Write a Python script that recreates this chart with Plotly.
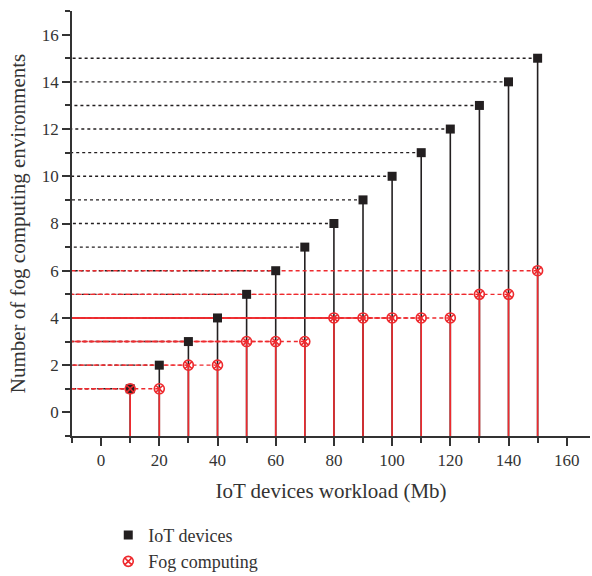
import plotly.graph_objects as go

workload = [10, 20, 30, 40, 50, 60, 70, 80, 90, 100, 110, 120, 130, 140, 150]
iot_devices = [1, 2, 3, 4, 5, 6, 7, 8, 9, 10, 11, 12, 13, 14, 15]
fog_computing = [1, 1, 2, 2, 3, 3, 3, 4, 4, 4, 4, 4, 5, 5, 6]

X_MIN, X_MAX = -10, 168
Y_MIN, Y_MAX = -1, 17

BLACK = "#231f20"
RED = "#ee2a2e"
FONT = "Liberation Serif"

fig = go.Figure()

# IoT: horizontal dotted lines to y-axis
for x, y in zip(workload, iot_devices):
    fig.add_trace(go.Scatter(x=[x, X_MIN], y=[y, y], mode="lines",
                             line=dict(color=BLACK, width=1.4, dash="3px,3px"),
                             showlegend=False, hoverinfo="skip"))
# IoT: vertical drop lines
for x, y in zip(workload, iot_devices):
    fig.add_trace(go.Scatter(x=[x, x], y=[y, Y_MIN], mode="lines",
                             line=dict(color=BLACK, width=1.6),
                             showlegend=False, hoverinfo="skip"))
# Fog: horizontal dashed lines
for x, y in zip(workload, fog_computing):
    fig.add_trace(go.Scatter(x=[x, X_MIN], y=[y, y], mode="lines",
                             line=dict(color=RED, width=1.4, dash="4px,3px"),
                             showlegend=False, hoverinfo="skip"))
# Fog: vertical drop lines
for x, y in zip(workload, fog_computing):
    fig.add_trace(go.Scatter(x=[x, x], y=[y, Y_MIN], mode="lines",
                             line=dict(color=RED, width=1.6),
                             showlegend=False, hoverinfo="skip"))

fig.add_trace(go.Scatter(x=workload, y=iot_devices, mode="markers", name="IoT devices",
                         marker=dict(symbol="square", size=9, color=BLACK,
                                     line=dict(width=0))))
fig.add_trace(go.Scatter(x=workload, y=fog_computing, mode="markers", name="Fog computing",
                         marker=dict(symbol="circle-x-open", size=10, color=RED,
                                     line=dict(width=1.6, color=RED))))

axis_common = dict(showline=True, linecolor="#333", linewidth=1.5, ticks="outside",
                   tickcolor="#333", tickwidth=1.5, ticklen=8, showgrid=False,
                   zeroline=False, tickfont=dict(family=FONT, size=17, color="#333"),
                   mirror=False)

fig.update_xaxes(range=[X_MIN, X_MAX], tickvals=[0, 20, 40, 60, 80, 100, 120, 140, 160],
                 minor=dict(tickvals=[-10, 10, 30, 50, 70, 90, 110, 130, 150, 170],
                            ticks="outside", ticklen=5, tickcolor="#333", tickwidth=1.5),
                 title=dict(text="IoT devices workload (Mb)", standoff=14,
                            font=dict(family=FONT, size=21, color="#333")),
                 **axis_common)
fig.update_yaxes(range=[Y_MIN, Y_MAX], tickvals=[0, 2, 4, 6, 8, 10, 12, 14, 16],
                 minor=dict(tickvals=[-1, 1, 3, 5, 7, 9, 11, 13, 15, 17],
                            ticks="outside", ticklen=5, tickcolor="#333", tickwidth=1.5),
                 title=dict(text="Number of fog computing environments", standoff=10,
                            font=dict(family=FONT, size=21, color="#333")),
                 **axis_common)

fig.update_layout(
    width=592, height=576,
    margin=dict(l=72, r=2, t=11, b=140, autoexpand=False),
    plot_bgcolor="white", paper_bgcolor="white",
    legend=dict(x=0.07, y=-0.19, xanchor="left", yanchor="top",
                font=dict(family=FONT, size=18, color="#333"),
                tracegroupgap=0, itemwidth=30, bgcolor="rgba(0,0,0,0)"),
    showlegend=True,
)

fig.write_html("out.html")
